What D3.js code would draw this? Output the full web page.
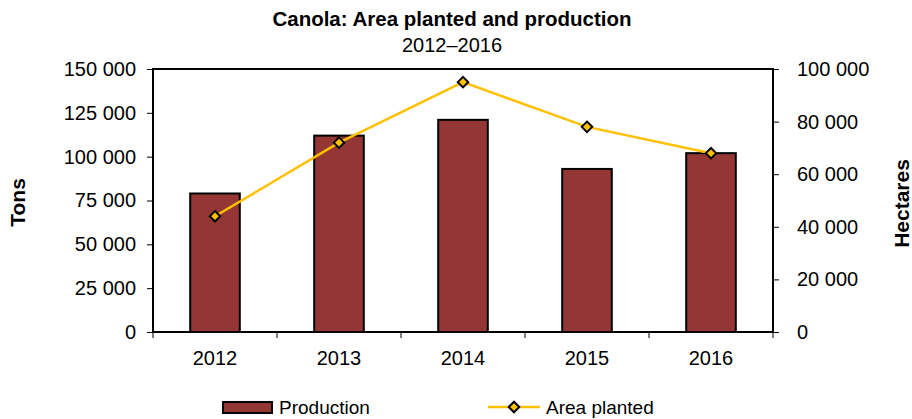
<!DOCTYPE html>
<html>
<head>
<meta charset="utf-8">
<script src="https://cdn.jsdelivr.net/npm/d3@7"></script>
<style>
  body { margin: 0; background: #fff; }
  text { font-family: "Liberation Sans", Arial, sans-serif; fill: #000; }
</style>
</head>
<body>
<svg id="chart" width="912" height="419"></svg>
<script>
const years = ["2012", "2013", "2014", "2015", "2016"];
const production = [79000, 112000, 121000, 93000, 102000]; // tons
const areaPlanted = [44000, 72000, 95000, 78000, 68000];   // hectares
const leftTicks = [0, 25000, 50000, 75000, 100000, 125000, 150000];
const rightTicks = [0, 20000, 40000, 60000, 80000, 100000];

const svg = d3.select("#chart");
const margin = { left: 153, right: 139, top: 69, bottom: 87 };
const width = 912 - margin.left - margin.right;
const height = 419 - margin.top - margin.bottom;

const fmt = (v) => d3.format(",")(v).replace(/,/g, " ");

const x = d3.scaleBand().domain(years).range([0, width]).paddingInner(0.6).paddingOuter(0.3);
const xEdges = d3.scaleBand().domain(years).range([0, width]); // for the ticks between categories
const yLeft = d3.scaleLinear().domain([0, 150000]).range([height, 0]);
const yRight = d3.scaleLinear().domain([0, 100000]).range([height, 0]);

const g = svg.append("g").attr("transform", `translate(${margin.left},${margin.top})`);

// title
svg.append("text").attr("x", 452).attr("y", 26).attr("text-anchor", "middle")
  .attr("font-size", 20.5).attr("font-weight", "bold").text("Canola: Area planted and production");
svg.append("text").attr("x", 452).attr("y", 52).attr("text-anchor", "middle")
  .attr("font-size", 20).text("2012–2016");

// bars
g.selectAll("rect.bar")
  .data(years)
  .enter()
  .append("rect")
  .attr("class", "bar")
  .attr("x", (d) => x(d))
  .attr("width", x.bandwidth())
  .attr("y", (d, i) => yLeft(production[i]))
  .attr("height", (d, i) => height - yLeft(production[i]))
  .attr("fill", "#943634")
  .attr("stroke", "#000")
  .attr("stroke-width", 2);

// frame
g.append("rect").attr("width", width).attr("height", height)
  .attr("fill", "none").attr("stroke", "#000").attr("stroke-width", 2);

// left axis
const leftAxis = g.append("g")
  .call(d3.axisLeft(yLeft).tickValues(leftTicks).tickFormat(fmt).tickSize(6).tickPadding(11));
leftAxis.select(".domain").remove();
leftAxis.selectAll("text").attr("font-size", 20).attr("font-family", "Liberation Sans, Arial, sans-serif");

// right axis
const rightAxis = g.append("g").attr("transform", `translate(${width},0)`)
  .call(d3.axisRight(yRight).tickValues(rightTicks).tickFormat(fmt).tickSize(6).tickPadding(18));
rightAxis.select(".domain").remove();
rightAxis.selectAll("text").attr("font-size", 20).attr("font-family", "Liberation Sans, Arial, sans-serif");

// bottom axis: ticks at category edges
const bottom = g.append("g").attr("transform", `translate(0,${height})`);
bottom.selectAll("line")
  .data(years.concat(["end"]))
  .enter()
  .append("line")
  .attr("x1", (d, i) => i < years.length ? xEdges(d) : width)
  .attr("x2", (d, i) => i < years.length ? xEdges(d) : width)
  .attr("y1", 0).attr("y2", 6)
  .attr("stroke", "#000").attr("stroke-width", 1);
bottom.selectAll("text")
  .data(years)
  .enter()
  .append("text")
  .attr("x", (d) => x(d) + x.bandwidth() / 2)
  .attr("y", 33)
  .attr("text-anchor", "middle")
  .attr("font-size", 20)
  .text((d) => d);

// area planted line
const line = d3.line()
  .x((d, i) => x(years[i]) + x.bandwidth() / 2)
  .y((d) => yRight(d));

g.append("path")
  .datum(areaPlanted)
  .attr("d", line)
  .attr("fill", "none")
  .attr("stroke", "#FFC000")
  .attr("stroke-width", 2.5);

const diamond = d3.symbol().type(d3.symbolDiamond2).size(70);
g.selectAll("path.marker")
  .data(areaPlanted)
  .enter()
  .append("path")
  .attr("class", "marker")
  .attr("d", diamond)
  .attr("transform", (d, i) => `translate(${x(years[i]) + x.bandwidth() / 2},${yRight(d)})`)
  .attr("fill", "#FFC000")
  .attr("stroke", "#000")
  .attr("stroke-width", 2);

// axis titles
svg.append("text")
  .attr("transform", `translate(25,${margin.top + height / 2 + 2}) rotate(-90)`)
  .attr("text-anchor", "middle").attr("font-size", 21).attr("font-weight", "bold").text("Tons");
svg.append("text")
  .attr("transform", `translate(909,${margin.top + height / 2 + 3}) rotate(-90)`)
  .attr("text-anchor", "middle").attr("font-size", 21).attr("font-weight", "bold").text("Hectares");

// legend
const legend = svg.append("g").attr("transform", "translate(0,407)");
legend.append("rect").attr("x", 223).attr("y", -5).attr("width", 49).attr("height", 11)
  .attr("fill", "#943634").attr("stroke", "#000").attr("stroke-width", 2);
legend.append("text").attr("x", 279).attr("y", 7).attr("font-size", 19).text("Production");
legend.append("line").attr("x1", 488).attr("x2", 540).attr("y1", 0).attr("y2", 0)
  .attr("stroke", "#FFC000").attr("stroke-width", 2.5);
legend.append("path").attr("d", diamond).attr("transform", "translate(514,0)")
  .attr("fill", "#FFC000").attr("stroke", "#000").attr("stroke-width", 2);
legend.append("text").attr("x", 546).attr("y", 7).attr("font-size", 19).text("Area planted");
</script>
</body>
</html>
